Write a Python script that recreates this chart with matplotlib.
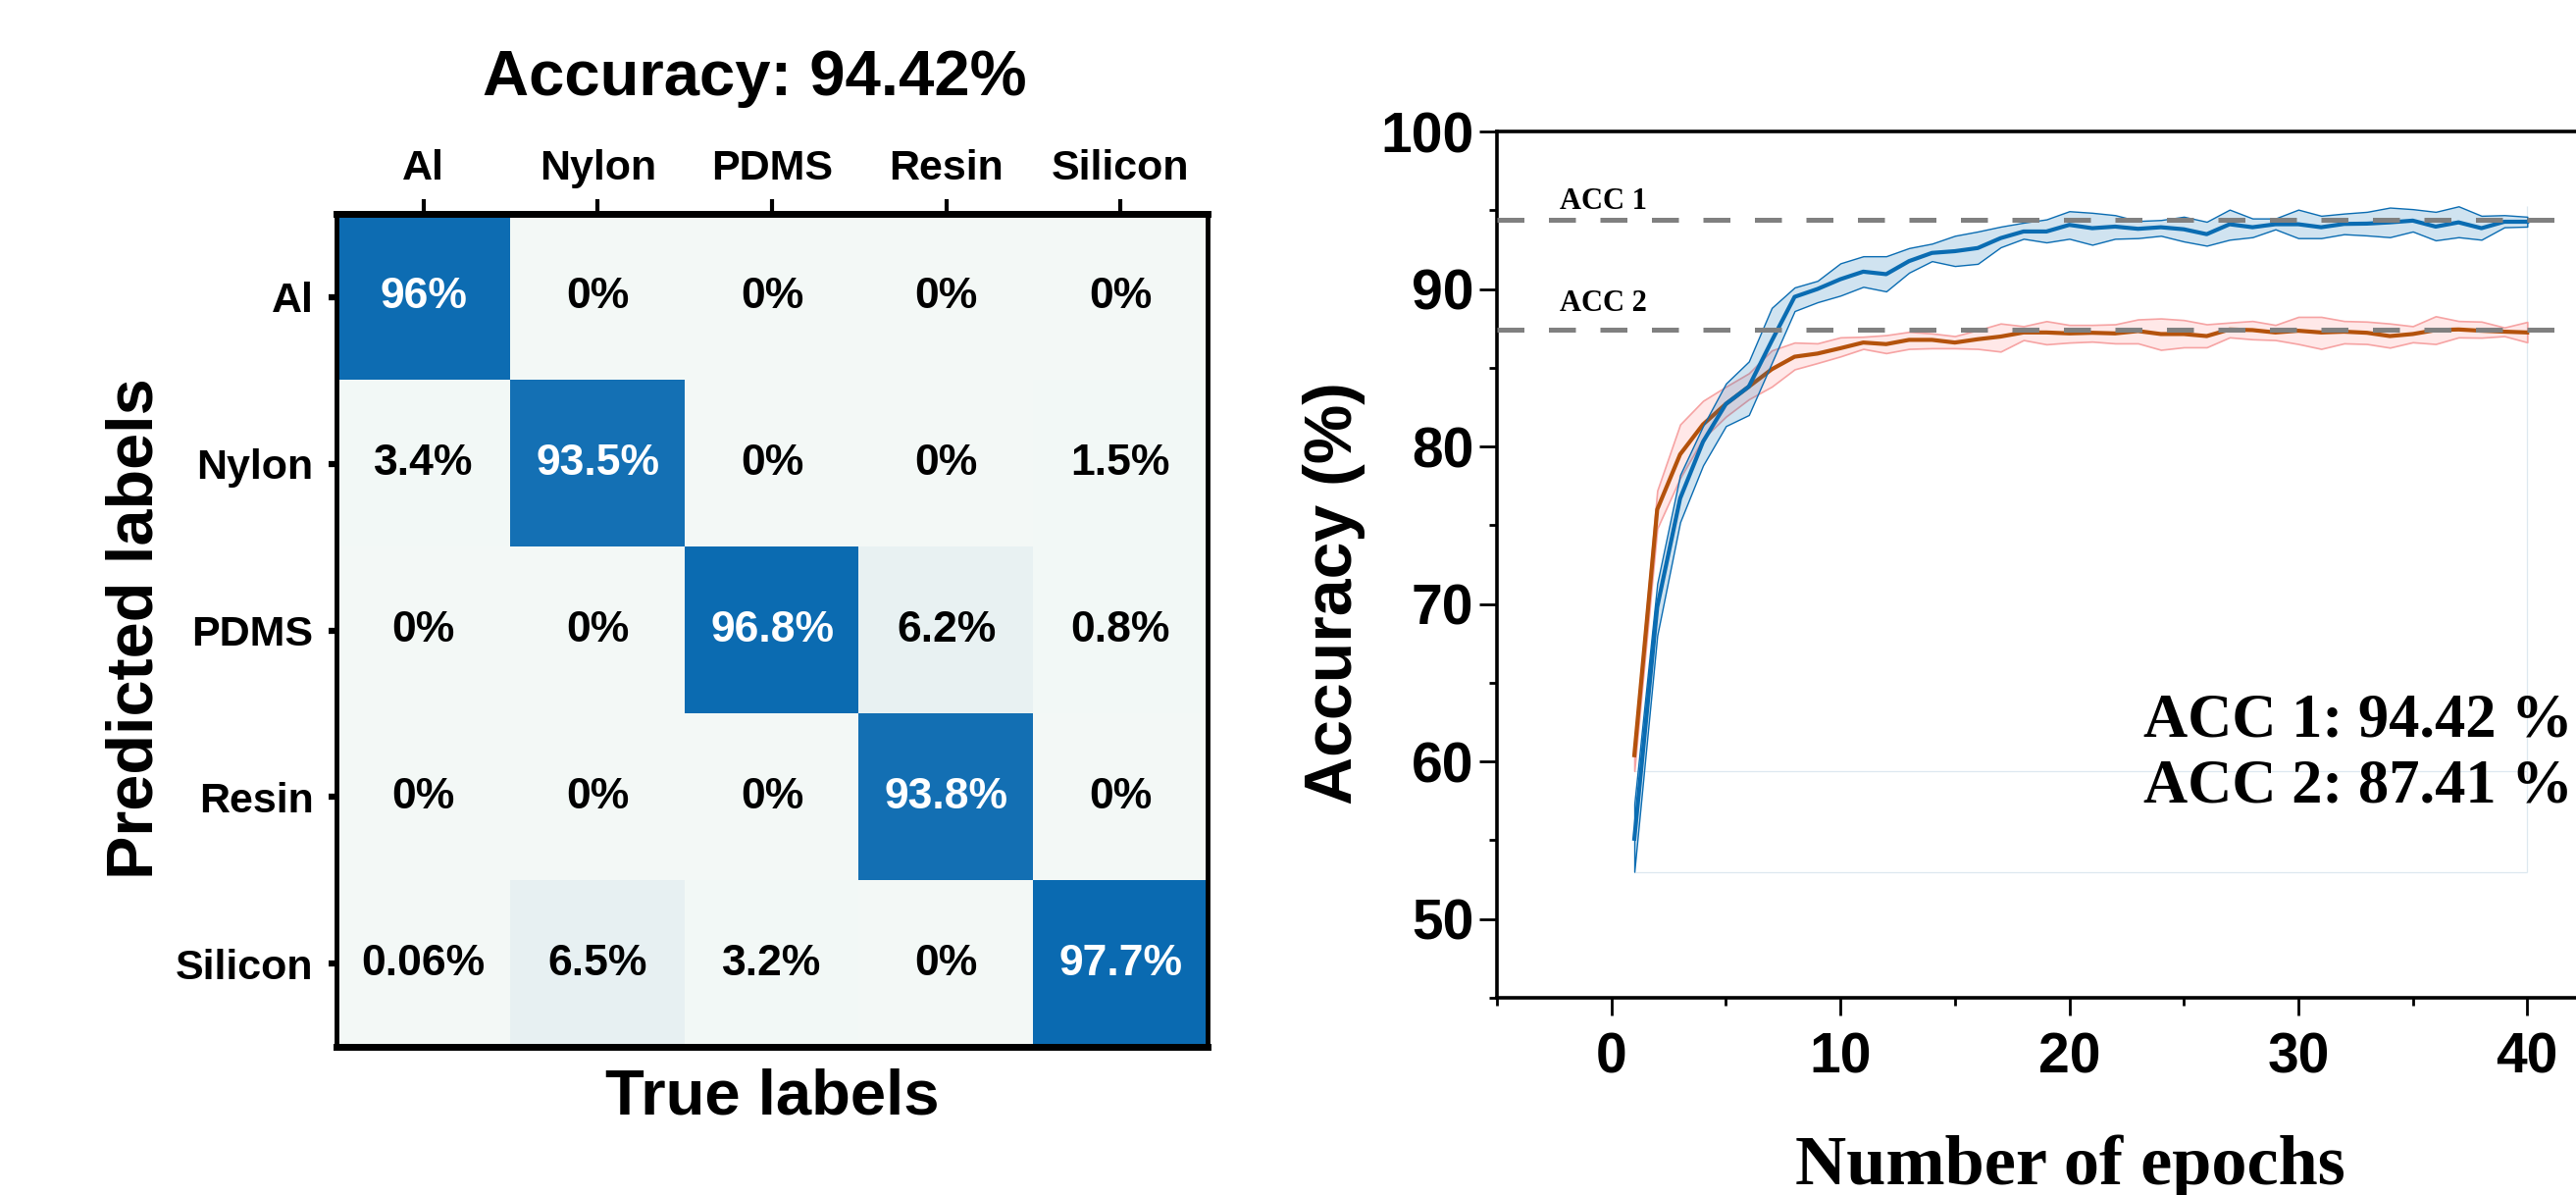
import numpy as np
import matplotlib
matplotlib.use("Agg")
import matplotlib.pyplot as plt
from matplotlib.colors import LinearSegmentedColormap
from matplotlib.ticker import MultipleLocator

# confusion matrix (rows = predicted, cols = true), in percent
classes = ["Al", "Nylon", "PDMS", "Resin", "Silicon"]
cm_row_al = [96, 0, 0, 0, 0]
cm_row_nylon = [3.4, 93.5, 0, 0, 1.5]
cm_row_pdms = [0, 0, 96.8, 6.2, 0.8]
cm_row_resin = [0, 0, 0, 93.8, 0]
cm_row_silicon = [0.06, 6.5, 3.2, 0, 97.7]
overall_acc = 94.42

# training curves, epochs 1..40
epochs = list(range(1, 41))
acc1_mean = [55.1, 69.8, 76.7, 80.3, 82.7, 83.8, 86.7, 89.5, 90.0, 90.62,
             91.1, 90.94, 91.77, 92.29, 92.4, 92.6, 93.23, 93.65, 93.65, 94.07,
             93.86, 93.96, 93.82, 93.92, 93.79, 93.48, 94.11, 93.92, 94.11, 94.11,
             93.92, 94.13, 94.15, 94.23, 94.34, 93.96, 94.23, 93.86, 94.27, 94.27]
acc1_hi = [57.3, 71.3, 78.2, 81.3, 84.0, 85.4, 88.8, 90.1, 90.52, 91.63,
           92.08, 92.08, 92.6, 92.88, 93.38, 93.65, 93.96, 94.21, 94.42, 94.94,
           94.84, 94.69, 94.32, 94.38, 94.59, 94.27, 95.04, 94.48, 94.48, 95.04,
           94.65, 94.79, 94.9, 95.17, 95.07, 94.9, 95.25, 94.65, 94.69, 94.59]
acc1_lo = [53.0, 68.0, 75.2, 78.8, 81.3, 82.0, 85.3, 88.6, 89.16, 89.58,
           90.14, 89.85, 91.04, 91.77, 91.46, 91.6, 92.65, 93.19, 92.96, 93.19,
           92.81, 93.19, 93.23, 93.38, 93.02, 92.75, 93.13, 93.29, 93.79, 93.23,
           93.23, 93.48, 93.4, 93.29, 93.65, 93.09, 93.29, 93.13, 93.92, 93.96]
acc2_mean = [60.4, 76.0, 79.5, 81.4, 82.7, 83.8, 84.9, 85.7, 85.9, 86.24,
             86.6, 86.5, 86.77, 86.77, 86.6, 86.81, 86.98, 87.24, 87.24, 87.18,
             87.22, 87.18, 87.33, 87.14, 87.14, 87.01, 87.43, 87.39, 87.24, 87.35,
             87.24, 87.29, 87.22, 87.01, 87.14, 87.39, 87.43, 87.35, 87.29, 87.24]
acc2_hi = [61.0, 77.2, 81.4, 82.9, 83.8, 84.65, 86.1, 86.6, 86.55, 86.93,
           86.97, 87.07, 87.28, 87.18, 87.01, 87.39, 87.81, 87.64, 87.96, 87.72,
           87.72, 87.76, 88.07, 88.13, 88.03, 87.76, 87.87, 87.97, 87.72, 88.23,
           88.23, 87.97, 87.93, 87.81, 87.64, 88.27, 87.97, 87.93, 87.56, 87.91]
acc2_lo = [59.4, 74.8, 78.0, 80.5, 81.9, 83.0, 83.8, 84.9, 85.3, 85.72,
           86.2, 85.93, 86.2, 86.24, 86.24, 86.2, 86.03, 86.76, 86.49, 86.6,
           86.66, 86.55, 86.55, 86.14, 86.3, 86.3, 86.93, 86.81, 86.76, 86.51,
           86.2, 86.55, 86.51, 86.28, 86.62, 86.51, 86.93, 86.91, 87.01, 86.62]
acc1_final = 94.42
acc2_final = 87.41

SANS = ["Liberation Sans", "Arial", "DejaVu Sans"]
SERIF = ["Liberation Serif", "Times New Roman", "DejaVu Serif"]
plt.rcParams["font.family"] = SANS
plt.rcParams["font.weight"] = "bold"

fig = plt.figure(figsize=(26.26, 12.18), dpi=100)
W, H = 2626.0, 1218.0


def box(x0, y0, x1, y1):
    # pixel box (top-left origin) -> figure fraction rect
    return [x0 / W, 1 - y1 / H, (x1 - x0) / W, (y1 - y0) / H]


# ---------------- confusion matrix ----------------
cm = np.array([cm_row_al, cm_row_nylon, cm_row_pdms, cm_row_resin, cm_row_silicon])
cmap = LinearSegmentedColormap.from_list(
    "cm", [(0, "#f3f8f6"), (0.04, "#f2f8f6"), (0.07, "#e6f0f2"), (1.0, "#0a6ab1")])

ax = fig.add_axes(box(343, 218, 1231, 1067))
ax.imshow(cm, cmap=cmap, vmin=0, vmax=cm.max(), aspect="auto", interpolation="nearest")
for i in range(cm.shape[0]):
    for j in range(cm.shape[1]):
        v = cm[i, j]
        ax.text(j, i, f"{v:g}%", ha="center", va="center", fontsize=32,
                fontweight="bold", color="white" if v > 50 else "black")

ax.set_xticks(range(len(classes)))
ax.set_yticks(range(len(classes)))
ax.set_xticklabels(classes, fontsize=31, fontweight="bold")
ax.set_yticklabels(classes, fontsize=31, fontweight="bold")
ax.xaxis.tick_top()
ax.tick_params(axis="x", top=True, bottom=False, length=11, width=3, pad=8)
ax.tick_params(axis="y", left=True, length=6, width=4.5, pad=11)
for s in ["top", "bottom"]:
    ax.spines[s].set_linewidth(5)
for s in ["left", "right"]:
    ax.spines[s].set_linewidth(3.5)

fig.text(769 / W, 1 - 97 / H, f"Accuracy: {overall_acc:.2f}%", fontsize=47,
         fontweight="bold", ha="center", va="baseline")
fig.text(787 / W, 1 - 1135 / H, "True labels", fontsize=47,
         fontweight="bold", ha="center", va="baseline")
fig.text(138 / W, 1 - 641 / H, "Predicted labels", fontsize=48,
         fontweight="bold", ha="center", va="center", rotation=90)

# ---------------- training curves ----------------
ax2 = fig.add_axes(box(1526, 134, 2693, 1017))
blue = "#0a6cb2"
brown = "#b4520c"

ax2.fill_between(epochs, acc2_lo, acc2_hi, facecolor=(1.0, 0.5, 0.5, 0.18),
                 edgecolor="#f6a3a3", linewidth=1.2, zorder=2)
ax2.plot(epochs, acc2_mean, color=brown, linewidth=3.0, zorder=3)
ax2.fill_between(epochs, acc1_lo, acc1_hi, facecolor=(0.04, 0.42, 0.70, 0.19),
                 edgecolor=blue, linewidth=1.0, zorder=4)
ax2.plot(epochs, acc1_mean, color=blue, linewidth=3.0, zorder=5)

# faint outline left over around the bands
faint = "#dde8f0"
ax2.hlines([min(acc1_lo), min(acc2_lo)], epochs[0], epochs[-1], color=faint,
           linewidth=0.9, zorder=1)
ax2.vlines(epochs[-1], min(acc1_lo), max(acc1_hi), color=faint, linewidth=0.9, zorder=1)

for v in (acc1_final, acc2_final):
    ax2.axhline(v, color="#808080", linewidth=3.6, dashes=(5.5, 5), zorder=6)

ax2.text(-0.35, 95.1, "ACC 1", family=SERIF, fontsize=22, fontweight="bold",
         ha="center", va="baseline")
ax2.text(-0.35, 88.6, "ACC 2", family=SERIF, fontsize=22, fontweight="bold",
         ha="center", va="baseline")
ax2.text(23.25, 61.6, f"ACC 1: {acc1_final:.2f} %", family=SERIF, fontsize=45,
         fontweight="bold", ha="left", va="baseline")
ax2.text(23.25, 57.4, f"ACC 2: {acc2_final:.2f} %", family=SERIF, fontsize=45,
         fontweight="bold", ha="left", va="baseline")

ax2.set_xlim(-5, 45)
ax2.set_ylim(45, 100)
ax2.xaxis.set_major_locator(MultipleLocator(10))
ax2.xaxis.set_minor_locator(MultipleLocator(5))
ax2.yaxis.set_major_locator(MultipleLocator(10))
ax2.yaxis.set_minor_locator(MultipleLocator(5))
ax2.set_yticks([50, 60, 70, 80, 90, 100])
ax2.tick_params(which="major", length=13, width=2, direction="out",
                labelsize=41, pad=4)
ax2.tick_params(which="minor", length=6, width=2, direction="out")
ax2.tick_params(axis="x", which="major", pad=12)
for lab in ax2.get_xticklabels() + ax2.get_yticklabels():
    lab.set_fontweight("bold")
for s in ax2.spines.values():
    s.set_linewidth(2.6)

fig.text(1360 / W, 1 - 605 / H, "Accuracy (%)", fontsize=49, fontweight="bold",
         ha="center", va="center", rotation=90)
fig.text(2110 / W, 1 - 1207 / H, "Number of epochs", family=SERIF, fontsize=52,
         fontweight="bold", ha="center", va="baseline")

fig.savefig("out.png", dpi=100)
